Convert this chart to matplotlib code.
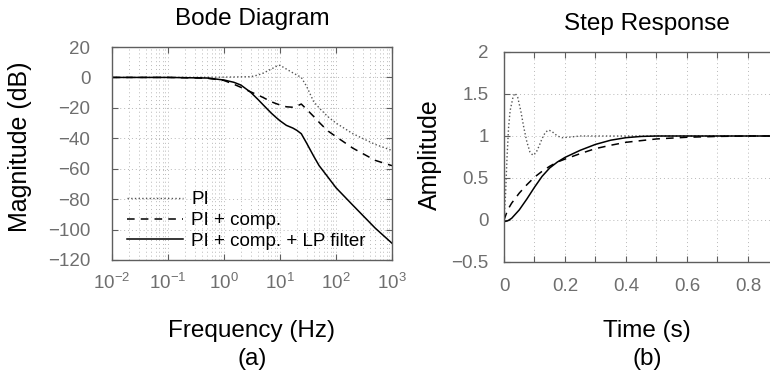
import numpy as np
import matplotlib
matplotlib.use("Agg")
import matplotlib.pyplot as plt
from matplotlib.ticker import LogLocator, MultipleLocator, NullFormatter

plt.rcParams['font.family'] = ['Liberation Sans', 'DejaVu Sans']
plt.rcParams['mathtext.fontset'] = 'custom'
plt.rcParams['mathtext.rm'] = 'Liberation Sans'

# Bode magnitude data (Hz, dB)
freq = [0.01, 0.1, 0.5, 1, 1.5, 2, 3, 4, 5, 7, 8.5, 10, 13, 17, 20, 24, 30, 40, 50, 70, 100, 200, 500, 1000]
mag_pi = [0, 0, 0.1, 0.2, 0.3, 0.4, 0.5, 1.5, 2.8, 5.5, 7.2, 8, 5.5, 3, 1.6, 0, -6, -16, -20, -25.5, -30, -37, -44, -48]
mag_comp = [0, 0, -0.5, -2, -4.5, -6.5, -9.5, -11.5, -13.2, -16, -17.2, -18.1, -19.3, -19.6, -18.8, -17.5, -21, -25.7, -29.5, -34.9, -38.9, -46.5, -54.5, -58]
mag_lp = [0, 0, -0.4, -1.7, -3.2, -5, -9.8, -14.3, -18, -23.5, -26.3, -28.5, -31.5, -33.3, -34.8, -37, -43.3, -51.8, -58, -65, -72.5, -84, -99, -109]

# Step response data (s, amplitude)
t_pi = [0, 0.005, 0.01, 0.015, 0.02, 0.03, 0.036, 0.045, 0.055, 0.065, 0.075, 0.085, 0.095, 0.105, 0.115,
        0.125, 0.135, 0.145, 0.155, 0.165, 0.175, 0.19, 0.21, 0.25, 0.3, 0.4, 1.0]
y_pi = [0, 0.3, 0.75, 1.1, 1.3, 1.47, 1.51, 1.46, 1.3, 1.1, 0.93, 0.81, 0.77, 0.8, 0.88,
        0.97, 1.04, 1.07, 1.06, 1.03, 1.0, 0.98, 0.985, 1.0, 1.0, 1.0, 1.0]
t_comp = [0, 0.005, 0.012, 0.025, 0.05, 0.075, 0.1, 0.125, 0.15, 0.175, 0.2, 0.25, 0.3, 0.35, 0.4, 0.5, 0.6, 0.7, 0.8, 1.0]
y_comp = [0, 0.05, 0.12, 0.2, 0.32, 0.42, 0.51, 0.58, 0.64, 0.69, 0.725, 0.79, 0.85, 0.89, 0.925, 0.965, 0.985, 0.995, 1.0, 1.0]
t_lp = [0, 0.012, 0.025, 0.05, 0.075, 0.1, 0.125, 0.15, 0.175, 0.2, 0.25, 0.3, 0.35, 0.4, 0.45, 0.5, 0.6, 1.0]
y_lp = [-0.02, -0.01, 0.02, 0.12, 0.25, 0.39, 0.52, 0.62, 0.69, 0.745, 0.83, 0.9, 0.95, 0.98, 0.995, 1.0, 1.0, 1.0]

labels = ['PI', 'PI + comp.', 'PI + comp. + LP filter']

W, H = 770, 378
fig = plt.figure(figsize=(W / 100, H / 100), dpi=100)

spine_col = '#5e5e5e'
tick_col = '#6e6e6e'
grid_kw = dict(color='#b8b8b8', linestyle=(0, (1, 3)), linewidth=0.7)


def style(ax, ypad, xpad):
    for s in ax.spines.values():
        s.set_color(spine_col)
        s.set_linewidth(1.0)
    ax.tick_params(which='both', direction='in', top=True, right=True, colors=spine_col,
                   labelcolor=tick_col, labelsize=13.5, length=4, width=0.8)
    ax.tick_params(axis='y', pad=ypad)
    ax.tick_params(axis='x', pad=xpad)


# (a) Bode diagram
ax1 = fig.add_axes([112 / W, 1 - 260 / H, 280 / W, 213 / H])
ax1.semilogx(freq, mag_pi, ':', color='#555555', lw=1.0, label=labels[0])
ax1.semilogx(freq, mag_comp, '--', color='black', lw=1.1, dashes=(5, 4), label=labels[1])
ax1.semilogx(freq, mag_lp, '-', color='black', lw=1.1, label=labels[2])
ax1.set_xlim(1e-2, 1e3)
ax1.set_ylim(-120, 20)
ax1.yaxis.set_major_locator(MultipleLocator(20))
ax1.xaxis.set_major_locator(LogLocator(base=10, numticks=10))
ax1.xaxis.set_minor_locator(LogLocator(base=10, subs=np.arange(2, 10), numticks=20))
ax1.xaxis.set_minor_formatter(NullFormatter())
ax1.grid(True, which='major', **grid_kw)
ax1.grid(True, which='minor', axis='x', **grid_kw)
style(ax1, ypad=15.5, xpad=9)
ax1.tick_params(which='minor', length=0)
ax1.set_title('Bode Diagram', fontsize=17.5, pad=16)
ax1.set_ylabel('Magnitude (dB)', fontsize=18)
ax1.yaxis.set_label_coords(-0.286, 0.53)
ax1.set_xlabel('Frequency (Hz)', fontsize=17.5, va='baseline')
ax1.xaxis.set_label_coords(0.5, -0.3615)
ax1.text(0.5, -0.493, '(a)', transform=ax1.transAxes, fontsize=17.5, ha='center', va='baseline')
ax1.legend(loc='lower left', frameon=False, fontsize=13.5, handlelength=3.0, handletextpad=0.43,
           labelspacing=0.2, borderpad=0, borderaxespad=0, bbox_to_anchor=(0.054, 0.047))

# (b) Step response
ax2 = fig.add_axes([504 / W, 1 - 262 / H, 286 / W, 210 / H])
ax2.plot(t_pi, y_pi, ':', color='#555555', lw=1.0)
ax2.plot(t_comp, y_comp, '--', color='black', lw=1.1, dashes=(5, 4))
ax2.plot(t_lp, y_lp, '-', color='black', lw=1.1)
ax2.set_xlim(0, 0.938)
ax2.set_ylim(-0.5, 2)
ax2.xaxis.set_major_locator(MultipleLocator(0.2))
ax2.xaxis.set_minor_locator(MultipleLocator(0.1))
ax2.yaxis.set_major_locator(MultipleLocator(0.5))
ax2.xaxis.set_major_formatter(lambda v, p: '0' if abs(v) < 1e-9 else f'{v:g}')
ax2.yaxis.set_major_formatter(lambda v, p: '0' if abs(v) < 1e-9 else f'{v:g}'.replace('-', '\u2212'))
ax2.grid(True, which='both', **grid_kw)
style(ax2, ypad=11, xpad=11.5)
ax2.tick_params(which='minor', length=4)
ax2.set_title('Step Response', fontsize=17.5, pad=16)
ax2.set_ylabel('Amplitude', fontsize=18)
ax2.yaxis.set_label_coords(-0.217, 0.51)
ax2.set_xlabel('Time (s)', fontsize=17.5, va='baseline')
ax2.xaxis.set_label_coords(0.5, -0.357)
ax2.text(0.5, -0.49, '(b)', transform=ax2.transAxes, fontsize=17.5, ha='center', va='baseline')

fig.savefig('out.png', dpi=100)
